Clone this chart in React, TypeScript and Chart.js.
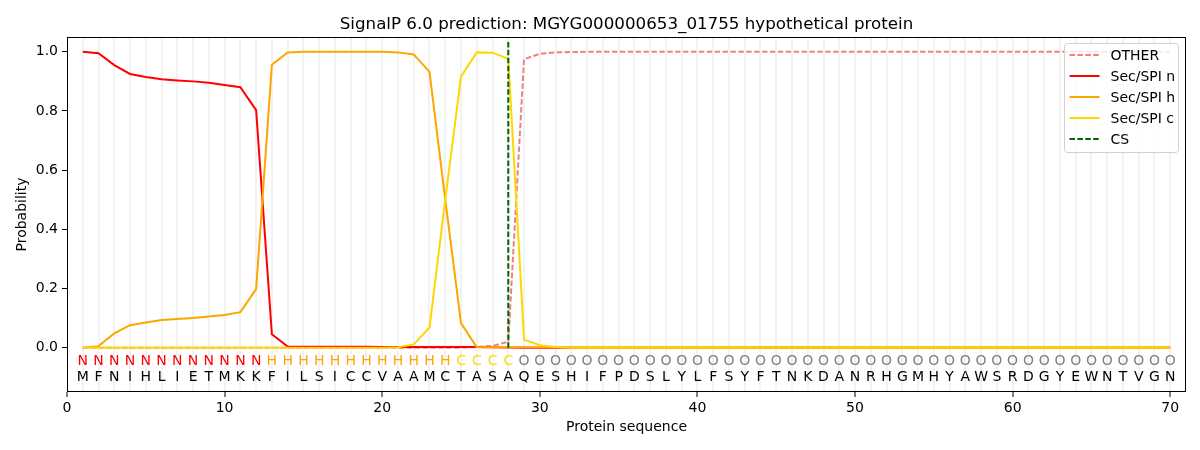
import { useEffect, useRef } from 'react';
import { Chart, registerables } from 'chart.js';

Chart.register(...registerables);

// Residues and their predicted labels
const residues = 'MFNIHLIETMKKFILSICCVAAMCTASAQESHIFPDSLYLFSYFTNKDANRHGMHYAWSRDGYEWNTVGN'.split('');
const regionLabels = ('NNNNNNNNNNNN' + 'HHHHHHHHHHHH' + 'CCCC' +
  'OOOOOOOOOO' + 'OOOOOOOOOO' + 'OOOOOOOOOO' + 'OOOOOOOOOO' + 'OO').split('');

const otherProb = [
  0, 0, 0, 0, 0, 0, 0, 0, 0, 0,
  0, 0, 0, 0, 0, 0, 0, 0, 0, 0,
  0, 0, 0, 0, 0, 0.002, 0.006, 0.02, 0.975, 0.993,
  0.998, 0.999, 1, 1, 1, 1, 1, 1, 1, 1,
  1, 1, 1, 1, 1, 1, 1, 1, 1, 1,
  1, 1, 1, 1, 1, 1, 1, 1, 1, 1,
  1, 1, 1, 1, 1, 1, 1, 1, 1, 1,
];
const secN = [
  1.0, 0.995, 0.955, 0.925, 0.915, 0.907, 0.903, 0.9, 0.895, 0.888,
  0.88, 0.803, 0.045, 0.004, 0.003, 0.003, 0.003, 0.003, 0.003, 0.002,
  0.002, 0.002, 0.002, 0.002, 0.002, 0.002, 0.001, 0, 0, 0,
  0, 0, 0, 0, 0, 0, 0, 0, 0, 0,
  0, 0, 0, 0, 0, 0, 0, 0, 0, 0,
  0, 0, 0, 0, 0, 0, 0, 0, 0, 0,
  0, 0, 0, 0, 0, 0, 0, 0, 0, 0,
];
const secH = [
  0, 0.005, 0.048, 0.076, 0.085, 0.093, 0.097, 0.1, 0.105, 0.11,
  0.12, 0.198, 0.956, 0.998, 1.0, 1.0, 1.0, 1.0, 1.0, 1.0,
  0.998, 0.991, 0.932, 0.5, 0.083, 0.001, 0.001, 0.001, 0.001, 0.001,
  0.001, 0.001, 0.001, 0.001, 0.001, 0.001, 0.001, 0.001, 0.001, 0.001,
  0.001, 0.001, 0.001, 0.001, 0.001, 0.001, 0.001, 0.001, 0.001, 0.001,
  0.001, 0.001, 0.001, 0.001, 0.001, 0.001, 0.001, 0.001, 0.001, 0.001,
  0.001, 0.001, 0.001, 0.001, 0.001, 0.001, 0.001, 0.001, 0.001, 0.001,
];
const secC = [
  0, 0, 0, 0, 0, 0, 0, 0, 0, 0,
  0, 0, 0, 0, 0, 0, 0, 0, 0, 0,
  0.001, 0.011, 0.068, 0.5, 0.916, 0.998, 0.997, 0.976, 0.027, 0.008,
  0.002, 0, 0, 0, 0, 0, 0, 0, 0, 0,
  0, 0, 0, 0, 0, 0, 0, 0, 0, 0,
  0, 0, 0, 0, 0, 0, 0, 0, 0, 0,
  0, 0, 0, 0, 0, 0, 0, 0, 0, 0,
];
const cleavageSite = 28;
const csTop = 1.04;

const xTicks = [0, 10, 20, 30, 40, 50, 60, 70];
const yTicks = [0, 0.2, 0.4, 0.6, 0.8, 1.0];

const TITLE = 'SignalP 6.0 prediction: MGYG000000653_01755 hypothetical protein';
const FONT = "'DejaVu Sans', sans-serif";

const labelColors: Record<string, string> = {
  N: '#ff0000',
  H: '#ffa500',
  C: '#ffd700',
  O: '#808080',
};

const legendItems = [
  { text: 'OTHER', color: '#f08080', dash: [5.5, 2.4] },
  { text: 'Sec/SPI n', color: '#ff0000', dash: [] as number[] },
  { text: 'Sec/SPI h', color: '#ffa500', dash: [] as number[] },
  { text: 'Sec/SPI c', color: '#ffd700', dash: [] as number[] },
  { text: 'CS', color: '#006400', dash: [5.5, 2.4] },
];

const toPoints = (vals: number[]) => vals.map((v, i) => ({ x: i + 1, y: v }));

// frame, title, residue letters and legend drawn on top of the chart
const extras = {
  id: 'extras',
  afterDraw(chart: Chart) {
    const { ctx, chartArea: a } = chart;
    const xs = chart.scales.x;
    const ys = chart.scales.y;
    ctx.save();

    ctx.strokeStyle = '#000';
    ctx.lineWidth = 1;
    ctx.strokeRect(a.left + 0.5, a.top + 0.5, a.right - a.left - 1, a.bottom - a.top - 1);

    ctx.fillStyle = '#000';
    ctx.font = `16.7px ${FONT}`;
    ctx.textAlign = 'center';
    ctx.textBaseline = 'alphabetic';
    ctx.fillText(TITLE, (a.left + a.right) / 2, a.top - 8.5);

    ctx.font = `14px ${FONT}`;
    ctx.textBaseline = 'middle';
    residues.forEach((r, i) => {
      const px = xs.getPixelForValue(i + 1);
      const lab = regionLabels[i];
      ctx.fillStyle = labelColors[lab];
      ctx.fillText(lab, px, ys.getPixelForValue(-0.047));
      ctx.fillStyle = '#000';
      ctx.fillText(r, px, ys.getPixelForValue(-0.1));
    });

    // legend
    const bw = 114, bh = 109;
    const bx = a.right - 7.5 - bw;
    const by = a.top + 6.5;
    ctx.beginPath();
    ctx.roundRect(bx, by, bw, bh, 3);
    ctx.fillStyle = 'rgba(255,255,255,0.8)';
    ctx.fill();
    ctx.strokeStyle = '#d0d0d0';
    ctx.stroke();
    ctx.textAlign = 'left';
    legendItems.forEach((it, i) => {
      const y = by + 11.5 + i * 21;
      ctx.beginPath();
      ctx.setLineDash(it.dash);
      ctx.strokeStyle = it.color;
      ctx.lineWidth = 2;
      ctx.moveTo(bx + 5, y);
      ctx.lineTo(bx + 35, y);
      ctx.stroke();
      ctx.setLineDash([]);
      ctx.fillStyle = '#000';
      ctx.fillText(it.text, bx + 46, y + 1);
    });

    ctx.restore();
  },
};

export default function App() {
  const canvasRef = useRef<HTMLCanvasElement>(null);
  const chartRef = useRef<Chart | null>(null);

  useEffect(() => {
    document.body.style.margin = '0';
    if (!canvasRef.current) return;
    if (chartRef.current) chartRef.current.destroy();

    Chart.defaults.font.family = FONT;
    Chart.defaults.font.size = 14;
    Chart.defaults.color = '#000';

    const line = (label: string, vals: number[], color: string, order: number, dash: number[] = []) => ({
      label,
      data: toPoints(vals),
      borderColor: color,
      backgroundColor: color,
      borderWidth: 2,
      borderDash: dash,
      pointRadius: 0,
      tension: 0,
      order,
    });

    chartRef.current = new Chart(canvasRef.current, {
      type: 'line',
      data: {
        datasets: [
          line('OTHER', otherProb, '#f08080', 5, [5.5, 2.4]),
          line('Sec/SPI n', secN, '#ff0000', 4),
          line('Sec/SPI h', secH, '#ffa500', 3),
          line('Sec/SPI c', secC, '#ffd700', 2),
          {
            label: 'CS',
            data: [{ x: cleavageSite, y: 0 }, { x: cleavageSite, y: csTop }],
            borderColor: '#006400',
            borderWidth: 2,
            borderDash: [5.5, 2.4],
            pointRadius: 0,
            order: 1,
          },
        ],
      },
      options: {
        responsive: false,
        animation: false,
        layout: { padding: { top: 37, right: 14, left: 0, bottom: 0 } },
        plugins: {
          legend: { display: false },
          title: { display: false },
          tooltip: { enabled: false },
        },
        scales: {
          x: {
            type: 'linear',
            min: 0,
            max: 71,
            afterFit: (s: any) => { s.height = 58; },
            afterBuildTicks: (s: any) => {
              s.ticks = [0, ...residues.map((_, i) => i + 1)].map(v => ({ value: v }));
            },
            ticks: {
              autoSkip: false,
              maxRotation: 0,
              padding: 3,
              callback: (v: any) => (xTicks.includes(Number(v)) ? String(v) : ''),
            },
            grid: {
              color: (c: any) => (c.tick && c.tick.value >= 1 ? 'rgba(0,0,0,0.05)' : 'rgba(0,0,0,0)'),
              lineWidth: 2,
              tickColor: (c: any) => (c.tick && xTicks.includes(c.tick.value) ? '#000' : 'rgba(0,0,0,0)'),
              tickWidth: 1,
              tickLength: 5,
            },
            border: { display: false },
            title: { display: true, text: 'Protein sequence', padding: { top: 0, bottom: 14.6 } },
          },
          y: {
            min: -0.15,
            max: 1.05,
            afterFit: (s: any) => { s.width = 67; },
            afterBuildTicks: (s: any) => {
              s.ticks = yTicks.map(v => ({ value: v }));
            },
            ticks: {
              padding: 4,
              callback: (v: any) => Number(v).toFixed(1),
            },
            grid: {
              drawOnChartArea: false,
              color: '#000',
              tickColor: '#000',
              tickLength: 5,
              tickWidth: 1,
            },
            border: { display: false },
            title: { display: true, text: 'Probability', padding: { top: 13.6, bottom: 0 } },
          },
        },
      },
      plugins: [extras],
    });

    return () => {
      if (chartRef.current) {
        chartRef.current.destroy();
        chartRef.current = null;
      }
    };
  }, []);

  return (
    <div style={{ width: 1200, height: 450 }}>
      <canvas ref={canvasRef} width={1200} height={450}></canvas>
    </div>
  );
}
